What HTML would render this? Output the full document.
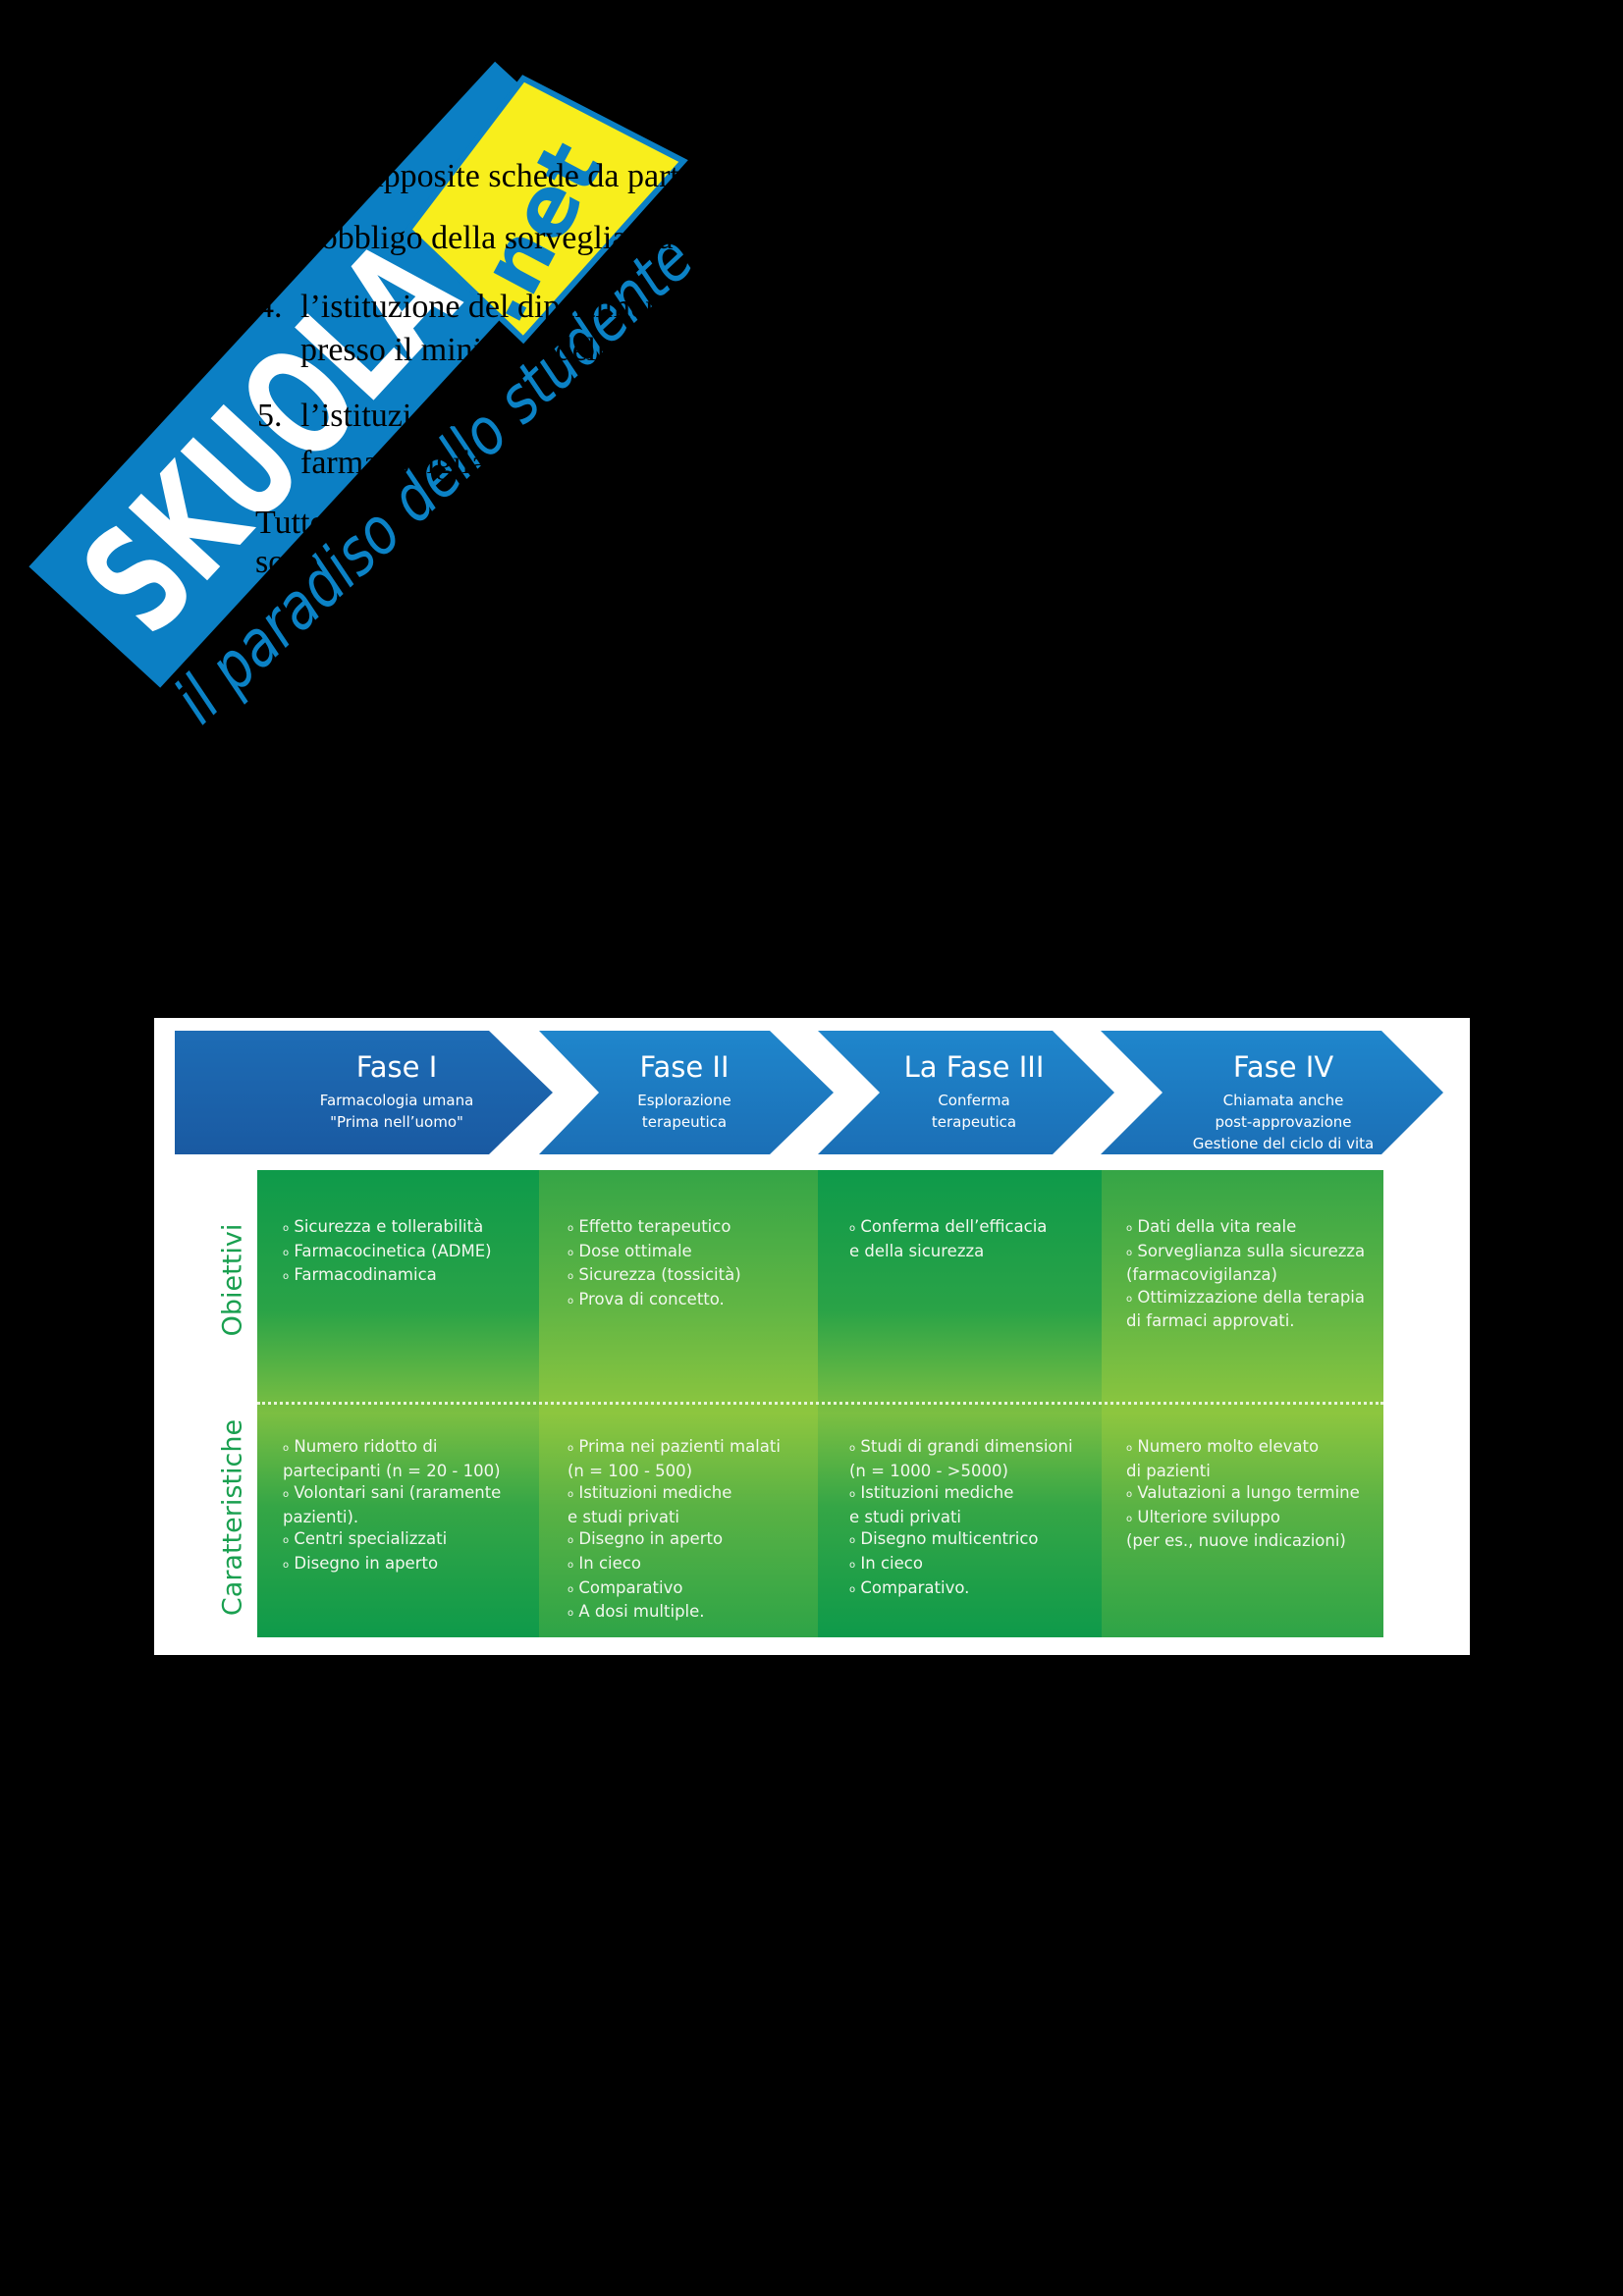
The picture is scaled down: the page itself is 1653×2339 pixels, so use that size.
<!DOCTYPE html>
<html><head><meta charset="utf-8"><style>
html,body{margin:0;padding:0;background:#000;}
body{width:1653px;height:2339px;position:relative;overflow:hidden;}
.t{position:absolute;font-family:"Liberation Serif",serif;font-size:34px;color:#000;white-space:nowrap;line-height:1;}
#panel{position:absolute;left:157px;top:1037px;width:1340px;height:649px;background:#fff;}
.col{position:absolute;top:155px;height:476px;}
.d{background:linear-gradient(#0e9a4a 0%,#2aa347 30%,#7cbf42 52%,#35a646 72%,#0e9a4a 100%);}
.l{background:linear-gradient(#35a546 0%,#62b644 30%,#8dc63f 52%,#5ab244 72%,#2ea447 100%);}
.txt{position:absolute;font-family:"DejaVu Sans",sans-serif;font-size:16.5px;line-height:22.6px;color:#f2f7ee;white-space:nowrap;}
.b{font-size:10px;vertical-align:1px;}
.rl{position:absolute;font-family:"DejaVu Sans",sans-serif;font-size:27px;color:#1aa050;transform:translate(-50%,-50%) rotate(-90deg);white-space:nowrap;}
</style></head><body>

<svg width="1653" height="800" style="position:absolute;left:0;top:0">
  <g transform="translate(99,636) rotate(-47.3)">
    <rect x="-4" y="-91" width="700" height="182" fill="#0b7fc4"/>
    <text x="25" y="52" font-family="DejaVu Sans" font-weight="bold" font-size="150" fill="#fff" textLength="470" lengthAdjust="spacingAndGlyphs">SKUOLA</text>
  </g>
  <polygon points="533,80 696,164 533,346 416,234" fill="#f8ee1c" stroke="#0b7fc4" stroke-width="6"/>
  <text transform="translate(570,250) rotate(-62)" font-family="DejaVu Sans" font-weight="bold" font-size="85" fill="#0b7fc4" text-anchor="middle">.net</text>
  <text transform="translate(205,740) rotate(-43)" font-family="DejaVu Sans" font-style="italic" font-size="66" fill="#0b82c6" textLength="690" lengthAdjust="spacingAndGlyphs">il paradiso dello studente</text>
</svg>

<div class="t" style="left:318px;top:163px">con apposite schede da parte</div>
<div class="t" style="left:306px;top:226px">l’obbligo della sorveglianza</div>
<div class="t" style="left:262px;top:296px">4.</div>
<div class="t" style="left:306px;top:296px">l’istituzione del dipartimento</div>
<div class="t" style="left:306px;top:340px">presso il ministero della</div>
<div class="t" style="left:262px;top:407px">5.</div>
<div class="t" style="left:306px;top:407px">l’istituzione</div>
<div class="t" style="left:306px;top:455px">farmacovigilanza</div>
<div class="t" style="left:260px;top:516px">Tutto</div>
<div class="t" style="left:260px;top:556px">sono</div>

<div id="panel">
  <svg width="1340" height="160" style="position:absolute;left:0;top:0">
    <defs>
      <linearGradient id="g1" x1="0" y1="0" x2="0" y2="1"><stop offset="0" stop-color="#1d6cb5"/><stop offset="1" stop-color="#1a5aa2"/></linearGradient>
      <linearGradient id="g2" x1="0" y1="0" x2="0" y2="1"><stop offset="0" stop-color="#1f86cc"/><stop offset="1" stop-color="#1b6fb6"/></linearGradient>
    </defs>
    <polygon points="21,13 341,13 406,76 341,139 21,139" fill="url(#g1)"/>
    <polygon points="392,13 627,13 692,76 627,139 392,139 453,76" fill="url(#g2)"/>
    <polygon points="676,13 915,13 978,76 915,139 676,139 739,76" fill="url(#g2)"/>
    <polygon points="964,13 1250,13 1313,76 1250,139 964,139 1027,76" fill="url(#g2)"/>
    <g font-family="DejaVu Sans" fill="#fff" text-anchor="middle">
      <text x="247" y="60" font-size="29">Fase I</text>
      <text x="247" y="89" font-size="15">Farmacologia umana</text>
      <text x="247" y="111" font-size="15">"Prima nell’uomo"</text>
      <text x="540" y="60" font-size="29">Fase II</text>
      <text x="540" y="89" font-size="15">Esplorazione</text>
      <text x="540" y="111" font-size="15">terapeutica</text>
      <text x="835" y="60" font-size="29">La Fase III</text>
      <text x="835" y="89" font-size="15">Conferma</text>
      <text x="835" y="111" font-size="15">terapeutica</text>
      <text x="1150" y="60" font-size="29">Fase IV</text>
      <text x="1150" y="89" font-size="15">Chiamata anche</text>
      <text x="1150" y="111" font-size="15">post-approvazione</text>
      <text x="1150" y="133" font-size="15">Gestione del ciclo di vita</text>
    </g>
  </svg>
  <div class="col d" style="left:105px;width:287px"></div>
  <div class="col l" style="left:392px;width:284px"></div>
  <div class="col d" style="left:676px;width:289px"></div>
  <div class="col l" style="left:965px;width:287px"></div>
  <div style="position:absolute;left:105px;top:391px;width:1147px;border-top:3px dotted #e8f3d8;"></div>
  <div class="rl" style="left:80px;top:267px">Obiettivi</div>
  <div class="rl" style="left:80px;top:509px">Caratteristiche</div>

  <div class="txt" style="left:131px;top:202px"><span class="b">o</span> Sicurezza e tollerabilità<br><span class="b">o</span> Farmacocinetica (ADME)<br><span class="b">o</span> Farmacodinamica</div>
  <div class="txt" style="left:421px;top:202px"><span class="b">o</span> Effetto terapeutico<br><span class="b">o</span> Dose ottimale<br><span class="b">o</span> Sicurezza (tossicità)<br><span class="b">o</span> Prova di concetto.</div>
  <div class="txt" style="left:708px;top:202px"><span class="b">o</span> Conferma dell’efficacia<br>e della sicurezza</div>
  <div class="txt" style="left:990px;top:202px"><span class="b">o</span> Dati della vita reale<br><span class="b">o</span> Sorveglianza sulla sicurezza<br>(farmacovigilanza)<br><span class="b">o</span> Ottimizzazione della terapia<br>di farmaci approvati.</div>

  <div class="txt" style="left:131px;top:426px"><span class="b">o</span> Numero ridotto di<br>partecipanti (n = 20 - 100)<br><span class="b">o</span> Volontari sani (raramente<br>pazienti).<br><span class="b">o</span> Centri specializzati<br><span class="b">o</span> Disegno in aperto</div>
  <div class="txt" style="left:421px;top:426px"><span class="b">o</span> Prima nei pazienti malati<br>(n = 100 - 500)<br><span class="b">o</span> Istituzioni mediche<br>e studi privati<br><span class="b">o</span> Disegno in aperto<br><span class="b">o</span> In cieco<br><span class="b">o</span> Comparativo<br><span class="b">o</span> A dosi multiple.</div>
  <div class="txt" style="left:708px;top:426px"><span class="b">o</span> Studi di grandi dimensioni<br>(n = 1000 - &gt;5000)<br><span class="b">o</span> Istituzioni mediche<br>e studi privati<br><span class="b">o</span> Disegno multicentrico<br><span class="b">o</span> In cieco<br><span class="b">o</span> Comparativo.</div>
  <div class="txt" style="left:990px;top:426px"><span class="b">o</span> Numero molto elevato<br>di pazienti<br><span class="b">o</span> Valutazioni a lungo termine<br><span class="b">o</span> Ulteriore sviluppo<br>(per es., nuove indicazioni)</div>
</div>
</body></html>
